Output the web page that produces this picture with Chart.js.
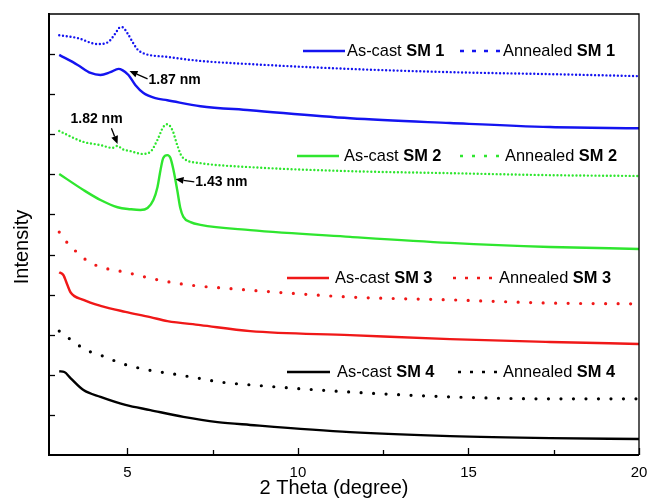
<!DOCTYPE html>
<html>
<head>
<meta charset="utf-8">
<script src="https://cdn.jsdelivr.net/npm/chart.js@4/dist/chart.umd.min.js"></script>
<style>
  body { margin: 0; background: #fff; }
  #wrap { width: 653px; height: 503px; }
</style>
</head>
<body>
<div id="wrap"><canvas id="xrd" width="653" height="503"></canvas></div>
<script>
// 2 theta positions and intensities (arbitrary units, curves offset)
const asCast1Theta = [3.0, 3.54, 3.92, 4.21, 4.5, 4.74, 4.85, 5.03, 5.23, 5.47, 5.82, 6.17, 7.14, 8.6, 11.53, 14.46, 17.39, 20.0];
const asCast1 = [9.98, 9.73, 9.53, 9.48, 9.55, 9.63, 9.6, 9.48, 9.23, 9.03, 8.9, 8.85, 8.7, 8.6, 8.4, 8.28, 8.18, 8.15];

const annealed1Theta = [3.0, 3.54, 4.12, 4.36, 4.5, 4.65, 4.79, 4.85, 5.0, 5.15, 5.29, 5.47, 6.17, 7.14, 8.6, 11.53, 14.46, 17.39, 20.0];
const annealed1 = [10.47, 10.4, 10.25, 10.27, 10.35, 10.52, 10.67, 10.67, 10.52, 10.3, 10.12, 10.02, 9.93, 9.83, 9.75, 9.63, 9.55, 9.5, 9.45];

const asCast2Theta = [3.0, 3.71, 4.21, 4.71, 5.09, 5.38, 5.59, 5.76, 5.88, 5.97, 6.05, 6.17, 6.26, 6.35, 6.46, 6.55, 6.64, 6.85, 7.14, 8.6, 11.53, 14.46, 17.39, 20.0];
const asCast2 = [7.01, 6.61, 6.36, 6.18, 6.13, 6.11, 6.16, 6.36, 6.68, 7.11, 7.41, 7.48, 7.41, 7.11, 6.61, 6.16, 5.94, 5.81, 5.74, 5.61, 5.44, 5.29, 5.19, 5.14];

const annealed2Theta = [3.0, 3.71, 4.21, 4.56, 4.71, 4.85, 5.09, 5.44, 5.67, 5.88, 6.05, 6.17, 6.32, 6.46, 6.61, 7.14, 8.6, 11.53, 14.46, 17.39, 20.0];
const annealed2 = [8.08, 7.81, 7.73, 7.66, 7.71, 7.63, 7.58, 7.51, 7.56, 7.86, 8.18, 8.25, 8.1, 7.73, 7.43, 7.28, 7.18, 7.08, 7.03, 6.98, 6.96];

const asCast3Theta = [3.0, 3.12, 3.24, 3.33, 3.71, 4.21, 4.94, 5.67, 6.17, 7.14, 8.6, 11.53, 14.46, 17.39, 20.0];
const asCast3 = [4.56, 4.49, 4.24, 4.06, 3.87, 3.72, 3.57, 3.44, 3.34, 3.24, 3.09, 2.99, 2.89, 2.82, 2.77];

const annealed3Theta = [3.0, 3.24, 3.54, 3.83, 4.21, 4.94, 5.67, 6.41, 7.14, 7.87, 8.6, 11.53, 14.46, 17.39, 20.0];
const annealed3 = [5.56, 5.29, 5.04, 4.84, 4.69, 4.56, 4.41, 4.29, 4.21, 4.16, 4.11, 3.94, 3.87, 3.79, 3.77];

const asCast4Theta = [3.0, 3.15, 3.33, 3.71, 4.21, 4.94, 5.67, 6.64, 7.64, 8.6, 11.53, 14.46, 17.39, 20.0];
const asCast4 = [2.09, 2.07, 1.92, 1.62, 1.45, 1.25, 1.12, 0.95, 0.82, 0.75, 0.57, 0.47, 0.42, 0.4];

const annealed4Theta = [3.0, 3.27, 3.56, 3.92, 4.21, 4.88, 5.62, 6.35, 7.05, 7.72, 8.6, 11.53, 14.46, 17.39, 20.0];
const annealed4 = [3.09, 2.92, 2.74, 2.57, 2.49, 2.27, 2.12, 2.02, 1.92, 1.82, 1.75, 1.57, 1.45, 1.4, 1.4];

const xTicks = [5, 7.5, 10, 12.5, 15, 17.5, 20];
const yTicks = [1, 2, 3, 4, 5, 6, 7, 8, 9, 10];
const sampleNames = ['SM 1', 'SM 2', 'SM 3', 'SM 4'];

const BLUE = '#1414f0', GREEN = '#2fe62f', RED = '#f01818', BLACK = '#000000';
const FONT = "'Liberation Sans', Arial, sans-serif";

function pts(xs, ys) { return xs.map((x, i) => ({ x: x, y: ys[i] })); }

function solid(label, xs, ys, color) {
  return { label, data: pts(xs, ys), borderColor: color, borderWidth: 2.4,
    pointRadius: 0, cubicInterpolationMode: 'monotone', fill: false };
}
function dotted(label, xs, ys, color, dash, width) {
  return { label, data: pts(xs, ys), borderColor: color, borderWidth: width,
    borderDash: dash, borderCapStyle: 'round', pointRadius: 0,
    cubicInterpolationMode: 'monotone', fill: false };
}

// legend rows: where the key sits on the page
const legendRows = [
  { name: sampleNames[0], color: BLUE, y: 51, line: [303, 345], text1: 347, dots: [460, 502], text2: 503, dash: [4, 8] },
  { name: sampleNames[1], color: GREEN, y: 156, line: [297, 339], text1: 344, dots: [460, 502], text2: 505, dash: [3, 9] },
  { name: sampleNames[2], color: RED, y: 278, line: [287, 329], text1: 335, dots: [453, 495], text2: 499, dash: [3, 9] },
  { name: sampleNames[3], color: BLACK, y: 372, line: [287, 330], text1: 337, dots: [458, 500], text2: 503, dash: [3, 9] }
];

// d-spacing labels, in data coordinates
const notes = [
  { text: '1.87 nm', tx: 5.62, ty: 9.35, from: [5.59, 9.38], to: [5.06, 9.58] },
  { text: '1.82 nm', tx: 3.33, ty: 8.38, from: [4.53, 8.15], to: [4.71, 7.76] },
  { text: '1.43 nm', tx: 6.99, ty: 6.81, from: [6.96, 6.81], to: [6.41, 6.88] }
];

function arrow(ctx, x0, y0, x1, y1) {
  const ang = Math.atan2(y1 - y0, x1 - x0);
  const len = 8, hw = 3.5;
  const bx = x1 - len * Math.cos(ang), by = y1 - len * Math.sin(ang);
  ctx.lineWidth = 1.3;
  ctx.beginPath(); ctx.moveTo(x0, y0); ctx.lineTo(bx, by); ctx.stroke();
  ctx.beginPath();
  ctx.moveTo(x1, y1);
  ctx.lineTo(bx + hw * Math.sin(ang), by - hw * Math.cos(ang));
  ctx.lineTo(bx - hw * Math.sin(ang), by + hw * Math.cos(ang));
  ctx.closePath(); ctx.fill();
}

function keyText(ctx, x, y, prefix, name) {
  ctx.textAlign = 'left'; ctx.textBaseline = 'middle';
  ctx.font = '16.4px ' + FONT;
  ctx.fillText(prefix, x, y);
  const w = ctx.measureText(prefix).width;
  ctx.font = 'bold 16.4px ' + FONT;
  ctx.fillText(name, x + w, y);
}

const overlay = {
  id: 'overlay',
  afterDraw(chart) {
    const ctx = chart.ctx, a = chart.chartArea, xs = chart.scales.x, ys = chart.scales.y;
    ctx.save();
    ctx.strokeStyle = '#000'; ctx.fillStyle = '#000';

    // frame
    ctx.lineWidth = 1.3;
    ctx.beginPath(); ctx.moveTo(a.left, a.top); ctx.lineTo(a.right, a.top); ctx.lineTo(a.right, a.bottom); ctx.stroke();
    ctx.lineWidth = 2;
    ctx.beginPath(); ctx.moveTo(a.left, a.top - 1); ctx.lineTo(a.left, a.bottom); ctx.lineTo(a.right, a.bottom); ctx.stroke();

    // inward ticks
    ctx.lineWidth = 1.3;
    xTicks.forEach(v => {
      const px = Math.round(xs.getPixelForValue(v)) + 0.5;
      const len = v % 5 === 0 ? 7 : 5;
      ctx.beginPath(); ctx.moveTo(px, a.bottom); ctx.lineTo(px, a.bottom - len); ctx.stroke();
    });
    yTicks.forEach(v => {
      const py = Math.round(ys.getPixelForValue(v)) + 0.5;
      ctx.beginPath(); ctx.moveTo(a.left, py); ctx.lineTo(a.left + 6, py); ctx.stroke();
    });

    // axis titles
    ctx.font = '20px ' + FONT;
    ctx.textAlign = 'center'; ctx.textBaseline = 'alphabetic';
    ctx.fillText('2 Theta (degree)', 334, 494);
    ctx.save();
    ctx.translate(28, 247); ctx.rotate(-Math.PI / 2);
    ctx.fillText('Intensity', 0, 0);
    ctx.restore();

    // key
    legendRows.forEach(r => {
      ctx.strokeStyle = r.color; ctx.lineWidth = 2.5;
      ctx.setLineDash([]);
      ctx.beginPath(); ctx.moveTo(r.line[0], r.y); ctx.lineTo(r.line[1], r.y); ctx.stroke();
      ctx.setLineDash(r.dash);
      ctx.beginPath(); ctx.moveTo(r.dots[0], r.y); ctx.lineTo(r.dots[1], r.y); ctx.stroke();
      ctx.setLineDash([]);
      ctx.fillStyle = '#000';
      keyText(ctx, r.text1, r.y, 'As-cast ', r.name);
      keyText(ctx, r.text2, r.y, 'Annealed ', r.name);
    });

    // d-spacing notes
    ctx.strokeStyle = '#000'; ctx.fillStyle = '#000';
    ctx.font = 'bold 14px ' + FONT;
    ctx.textAlign = 'left'; ctx.textBaseline = 'middle';
    notes.forEach(n => {
      ctx.fillText(n.text, xs.getPixelForValue(n.tx), ys.getPixelForValue(n.ty));
      arrow(ctx, xs.getPixelForValue(n.from[0]), ys.getPixelForValue(n.from[1]),
        xs.getPixelForValue(n.to[0]), ys.getPixelForValue(n.to[1]));
    });
    ctx.restore();
  }
};

new Chart(document.getElementById('xrd'), {
  type: 'line',
  data: {
    datasets: [
      dotted('Annealed SM 1', annealed1Theta, annealed1, BLUE, [0, 3.8], 2.4),
      solid('As-cast SM 1', asCast1Theta, asCast1, BLUE),
      dotted('Annealed SM 2', annealed2Theta, annealed2, GREEN, [0, 3.8], 2.4),
      solid('As-cast SM 2', asCast2Theta, asCast2, GREEN),
      dotted('Annealed SM 3', annealed3Theta, annealed3, RED, [0, 12.5], 3.2),
      solid('As-cast SM 3', asCast3Theta, asCast3, RED),
      dotted('Annealed SM 4', annealed4Theta, annealed4, BLACK, [0, 12.5], 3.2),
      solid('As-cast SM 4', asCast4Theta, asCast4, BLACK)
    ]
  },
  options: {
    responsive: false,
    animation: false,
    devicePixelRatio: 1,
    layout: { padding: { top: 14, right: 14, left: 0, bottom: 0 } },
    plugins: { legend: { display: false }, tooltip: { enabled: false } },
    scales: {
      x: {
        type: 'linear', min: 2.7, max: 20,
        afterBuildTicks: s => { s.ticks = xTicks.map(v => ({ value: v })); },
        afterFit: s => { s.height = 48; s.paddingLeft = 0; s.paddingRight = 0; },
        grid: { display: false, drawTicks: false },
        border: { display: false },
        ticks: {
          color: '#000', padding: 9, maxRotation: 0, autoSkip: false,
          font: { family: FONT, size: 15 },
          callback: v => (v % 5 === 0 ? String(v) : '')
        }
      },
      y: {
        min: 0, max: 11,
        afterFit: s => { s.width = 49; },
        grid: { display: false, drawTicks: false },
        border: { display: false },
        ticks: { display: false }
      }
    }
  },
  plugins: [overlay]
});
</script>
</body>
</html>
